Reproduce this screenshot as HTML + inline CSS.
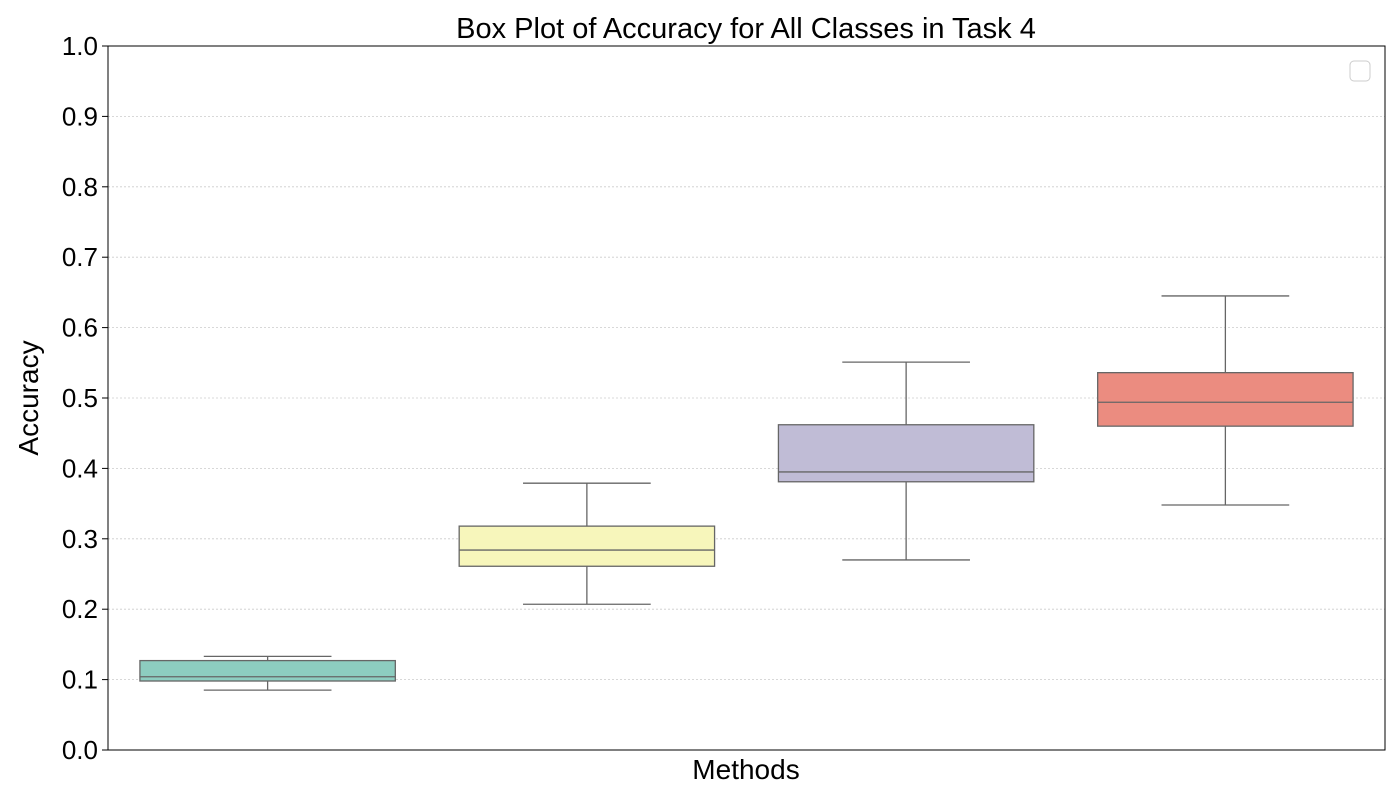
<!DOCTYPE html>
<html><head><meta charset="utf-8"><style>
body{margin:0;background:#fff}
svg text{font-family:"Liberation Sans","DejaVu Sans",sans-serif;fill:#000}
</style></head><body>
<svg width="1400" height="800" xmlns="http://www.w3.org/2000/svg">
<g id="grid"></g>
<g id="boxes"></g>
<g id="yticks"></g>
<rect x="108" y="46" width="1277" height="704" fill="none" stroke="#000" stroke-width="1"/>
<rect x="1350" y="61" width="20" height="20" rx="4" fill="#fff" stroke="#ccc"/>
<text x="746" y="38" font-size="29" text-anchor="middle">Box Plot of Accuracy for All Classes in Task 4</text>
<text x="746" y="779" font-size="28" text-anchor="middle">Methods</text>
<text x="38" y="398" font-size="28" text-anchor="middle" transform="rotate(-90 38 398)">Accuracy</text>
</svg>
<script>
const categories=["M1","M2","M3","M4"];
const whiskerLow=[0.085,0.207,0.270,0.348];
const q1=[0.098,0.261,0.381,0.460];
const median=[0.104,0.284,0.395,0.494];
const q3=[0.127,0.318,0.462,0.536];
const whiskerHigh=[0.133,0.379,0.551,0.645];
const colors=["#8dcdc0","#f7f6bb","#c0bcd6","#eb8c80"];
const yTicks=[0,0.1,0.2,0.3,0.4,0.5,0.6,0.7,0.8,0.9,1.0];
const L=108,R=1385,T=46,B=750;
const y=v=>B-(B-T)*v;
const slot=(R-L)/categories.length;
const xc=i=>L+slot*(i+0.5);
const NS="http://www.w3.org/2000/svg";
function mk(tag,attrs,parent){const e=document.createElementNS(NS,tag);for(const k in attrs)e.setAttribute(k,attrs[k]);parent.appendChild(e);return e;}
const grid=document.getElementById('grid'),yt=document.getElementById('yticks'),bx=document.getElementById('boxes');
yTicks.forEach(t=>{
 if(t>0&&t<1){const g=mk('line',{x1:L,x2:R,y1:y(t),y2:y(t),stroke:'#ccc','stroke-width':0.8,'stroke-dasharray':'2,2'},grid);
 
 }
 const tk=mk('line',{x1:L-6,x2:L,y1:y(t),y2:y(t),stroke:'#000'},yt);
 
 
 const tx=mk('text',{x:L-10,y:y(t)+9,'font-size':26,'text-anchor':'end'},yt);
 tx.textContent=t.toFixed(1);
 
 
});
const bw=slot*0.8,cw=slot*0.4,st='#666';
categories.forEach((c,i)=>{
 const g=mk('g',{},bx);
 
 
 const cx=xc(i);
 mk('line',{x1:cx,x2:cx,y1:y(whiskerLow[i]),y2:y(q1[i]),stroke:st,'stroke-width':1.3},g);
 mk('line',{x1:cx,x2:cx,y1:y(q3[i]),y2:y(whiskerHigh[i]),stroke:st,'stroke-width':1.3},g);
 mk('line',{x1:cx-cw/2,x2:cx+cw/2,y1:y(whiskerLow[i]),y2:y(whiskerLow[i]),stroke:st,'stroke-width':1.3},g);
 mk('line',{x1:cx-cw/2,x2:cx+cw/2,y1:y(whiskerHigh[i]),y2:y(whiskerHigh[i]),stroke:st,'stroke-width':1.3},g);
 mk('rect',{x:cx-bw/2,y:y(q3[i]),width:bw,height:y(q1[i])-y(q3[i]),fill:colors[i],stroke:st,'stroke-width':1.3},g);
 mk('line',{x1:cx-bw/2,x2:cx+bw/2,y1:y(median[i]),y2:y(median[i]),stroke:st,'stroke-width':1.3},g);
});
</script>
</body></html>
